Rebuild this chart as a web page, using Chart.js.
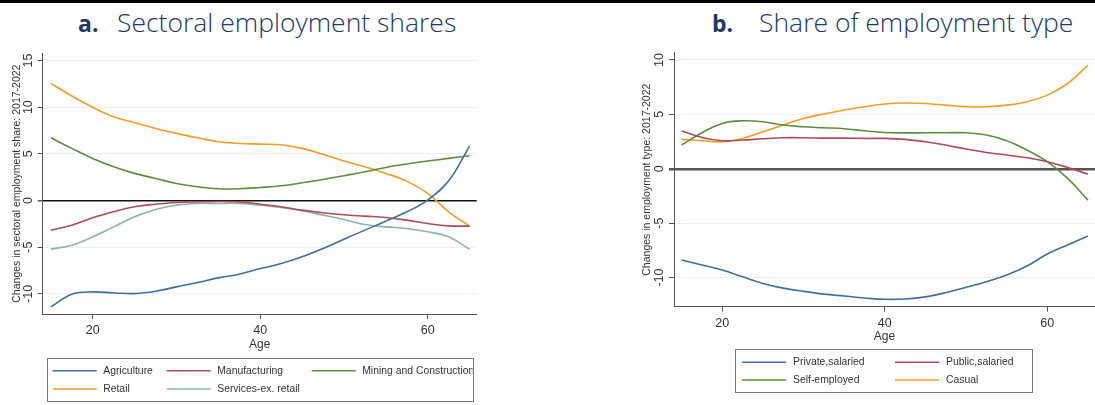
<!DOCTYPE html>
<html>
<head>
<meta charset="utf-8">
<script src="https://cdn.jsdelivr.net/npm/chart.js@4.4.1/dist/chart.umd.min.js"></script>
<style>
  html, body { margin: 0; padding: 0; background: #fff; width: 1095px; height: 405px; overflow: hidden; }
  body { position: relative; font-family: "Liberation Sans", Arial, sans-serif; }
  #topbar { position: absolute; left: 0; top: 0; width: 1095px; height: 3px; background: #000; }
  .ttl { position: absolute; top: 9px; font-family: "Open Sans", "Noto Sans", sans-serif; font-size: 26.5px; line-height: 26.5px; font-weight: 300; color: #203864; white-space: nowrap; }
  .ttl.lbl { top: 12px; font-size: 23px; line-height: 23px; font-weight: 700; }
  #panelA { position: absolute; left: 0; top: 0; }
  #panelB { position: absolute; left: 630px; top: 0; }
</style>
</head>
<body>
<div id="topbar"></div>
<div class="ttl lbl" style="left:78px">a.</div>
<div class="ttl" style="left:117px">Sectoral employment shares</div>
<div class="ttl lbl" style="left:712px">b.</div>
<div class="ttl" style="left:759px">Share of employment type</div>
<canvas id="panelA" width="550" height="405"></canvas>
<canvas id="panelB" width="465" height="405"></canvas>
<script>
// Age grid shared by both panels
const ages = [15, 17.5, 20, 22.5, 25, 27.5, 30, 32.5, 35, 37.5, 40, 42.5, 45, 47.5, 50, 52.5, 55, 57.5, 60, 62.5, 65];
const ageTicks = [20, 40, 60];

// Panel a: change in sectoral employment share, 2017-2022
const agriculture   = [-11.41, -10.05, -9.80, -9.91, -9.98, -9.73, -9.26, -8.80, -8.30, -7.90, -7.30, -6.76, -6.04, -5.15, -4.15, -3.18, -2.22, -1.22, 0.04, 2.10, 5.83];
const manufacturing = [-3.19, -2.65, -1.86, -1.22, -0.68, -0.40, -0.22, -0.15, -0.11, -0.15, -0.40, -0.68, -1.04, -1.32, -1.54, -1.68, -1.82, -2.11, -2.47, -2.72, -2.75];
const mining        = [6.72, 5.58, 4.50, 3.61, 2.90, 2.36, 1.82, 1.46, 1.25, 1.25, 1.39, 1.57, 1.89, 2.25, 2.65, 3.07, 3.54, 3.90, 4.22, 4.51, 4.79];
const retail        = [12.55, 11.19, 9.98, 8.97, 8.33, 7.72, 7.19, 6.72, 6.29, 6.11, 6.04, 5.97, 5.58, 4.94, 4.22, 3.61, 2.90, 2.07, 0.75, -1.22, -2.75];
const services      = [-5.22, -4.79, -3.90, -2.83, -1.75, -0.97, -0.50, -0.32, -0.32, -0.32, -0.50, -0.75, -1.11, -1.57, -2.04, -2.58, -2.83, -3.00, -3.36, -3.90, -5.22];
const sectorTicks = [-10, -5, 0, 5, 10, 15];

// Panel b: change in share of employment type, 2017-2022
const privateSalaried = [-8.39, -8.85, -9.31, -9.93, -10.54, -10.97, -11.27, -11.52, -11.70, -11.88, -12.00, -11.97, -11.78, -11.39, -10.90, -10.38, -9.77, -8.94, -7.84, -7.00, -6.19];
const publicSalaried  = [3.47, 2.88, 2.58, 2.64, 2.76, 2.85, 2.85, 2.82, 2.82, 2.79, 2.79, 2.70, 2.48, 2.18, 1.81, 1.50, 1.26, 1.01, 0.65, 0.12, -0.49];
const selfEmployed    = [2.18, 3.31, 4.17, 4.41, 4.32, 4.02, 3.86, 3.77, 3.68, 3.49, 3.34, 3.30, 3.31, 3.31, 3.31, 3.10, 2.58, 1.72, 0.65, -0.89, -2.88];
const casual          = [2.70, 2.58, 2.48, 2.79, 3.40, 4.02, 4.63, 5.03, 5.40, 5.70, 5.95, 6.05, 6.00, 5.85, 5.70, 5.70, 5.85, 6.16, 6.77, 7.84, 9.53];
const typeTicks = [-10, -5, 0, 5, 10];

const C = {
  blue: '#3f6f9f', red: '#b04a5c', green: '#5f8d3e', orange: '#f39c28', sage: '#8fb2a4'
};
const FONT = '"Liberation Sans", Arial, sans-serif';

function series(label, values, color) {
  return {
    label, borderColor: color, backgroundColor: color,
    data: ages.map((a, i) => ({ x: a, y: values[i] }))
  };
}

// Boxed legend drawn under the plot, entries laid out row by row
const boxLegend = {
  id: 'boxLegend',
  afterDraw(chart, args, o) {
    const ctx = chart.ctx;
    ctx.save();
    ctx.strokeStyle = '#7a7a7a';
    ctx.lineWidth = 1;
    ctx.strokeRect(o.box[0] + 0.5, o.box[1] + 0.5, o.box[2] - o.box[0], o.box[3] - o.box[1]);
    ctx.beginPath();
    ctx.rect(o.box[0] + 1, o.box[1] + 1, o.box[2] - o.box[0] - 1.5, o.box[3] - o.box[1] - 2);
    ctx.clip();
    ctx.font = o.fontSize + 'px ' + FONT;
    ctx.textBaseline = 'middle';
    ctx.fillStyle = '#333';
    chart.data.datasets.forEach((ds, i) => {
      const col = i % o.cols.length, row = Math.floor(i / o.cols.length);
      const x = o.cols[col], y = o.rows[row];
      ctx.strokeStyle = ds.borderColor;
      ctx.lineWidth = 1.4;
      ctx.beginPath();
      ctx.moveTo(x, y);
      ctx.lineTo(x + o.lineLen, y);
      ctx.stroke();
      ctx.fillText(ds.label, x + o.lineLen + o.gap, y);
    });
    ctx.restore();
  }
};

function makeChart(el, cfg) {
  return new Chart(el, {
    type: 'line',
    data: { datasets: cfg.datasets },
    plugins: [boxLegend],
    options: {
      responsive: false,
      animation: false,
      devicePixelRatio: 1,
      layout: { padding: { top: cfg.top, right: cfg.right, left: 0, bottom: 0 } },
      elements: {
        point: { radius: 0 },
        line: { borderWidth: 1.6, tension: 0.4, fill: false }
      },
      plugins: {
        legend: { display: false },
        tooltip: { enabled: false },
        boxLegend: cfg.legend
      },
      scales: {
        x: {
          type: 'linear', min: cfg.xMin, max: cfg.xMax,
          afterBuildTicks: s => { s.ticks = ageTicks.map(v => ({ value: v })); },
          afterFit: s => { s.height = cfg.xHeight; },
          grid: { drawOnChartArea: false, drawTicks: true, tickLength: 5, tickColor: '#555' },
          border: { color: '#555', width: 1 },
          ticks: { font: { family: FONT, size: 12.5 }, color: '#333', padding: 4, maxRotation: 0 },
          title: { display: true, text: 'Age', font: { family: FONT, size: 12 }, color: '#333', padding: { top: 0, bottom: cfg.ageGap } }
        },
        y: {
          min: cfg.yMin, max: cfg.yMax,
          afterBuildTicks: s => { s.ticks = cfg.yTicks.map(v => ({ value: v })); },
          afterFit: s => { s.width = cfg.yWidth; },
          grid: {
            color: c => c.tick && c.tick.value === 0 ? cfg.zeroColor : '#e9f1f5',
            lineWidth: c => c.tick && c.tick.value === 0 ? cfg.zeroWidth : 1,
            tickColor: '#555', tickLength: 5
          },
          border: { color: '#555', width: 1 },
          ticks: { font: { family: FONT, size: 12.5 }, color: '#333', padding: 0, minRotation: 90, maxRotation: 90, crossAlign: 'center' },
          title: { display: true, text: cfg.yTitle, font: { family: FONT, size: 10.5 }, color: '#333', padding: { top: 11, bottom: 0 } }
        }
      }
    }
  });
}

makeChart(document.getElementById('panelA'), {
  datasets: [
    series('Agriculture', agriculture, C.blue),
    series('Manufacturing', manufacturing, C.red),
    series('Mining and Construction', mining, C.green),
    series('Retail', retail, C.orange),
    series('Services-ex. retail', services, C.sage)
  ],
  top: 53, right: 73.3, xMin: 14.03, xMax: 65.85, xHeight: 90.7, ageGap: 53,
  yMin: -12.2, yMax: 15.8, yTicks: sectorTicks, yWidth: 42.7,
  zeroColor: '#111', zeroWidth: 1.5,
  yTitle: 'Changes in sectoral employment share: 2017-2022',
  legend: { box: [47, 358, 473, 401], cols: [52.7, 166.7, 311.7], rows: [370.7, 389], lineLen: 44, gap: 6.5, fontSize: 10.4 }
});

makeChart(document.getElementById('panelB'), {
  datasets: [
    series('Private,salaried', privateSalaried, C.blue),
    series('Public,salaried', publicSalaried, C.red),
    series('Self-employed', selfEmployed, C.green),
    series('Casual', casual, C.orange)
  ],
  top: 52.7, right: 0, xMin: 14.06, xMax: 65.87, xHeight: 98.3, ageGap: 61,
  yMin: -12.68, yMax: 10.67, yTicks: typeTicks, yWidth: 44,
  zeroColor: '#555', zeroWidth: 2.5,
  yTitle: 'Changes in employment type: 2017-2022',
  legend: { box: [105, 349, 402, 392], cols: [112, 265], rows: [362.3, 380], lineLen: 44, gap: 7, fontSize: 10.4 }
});
</script>
</body>
</html>
